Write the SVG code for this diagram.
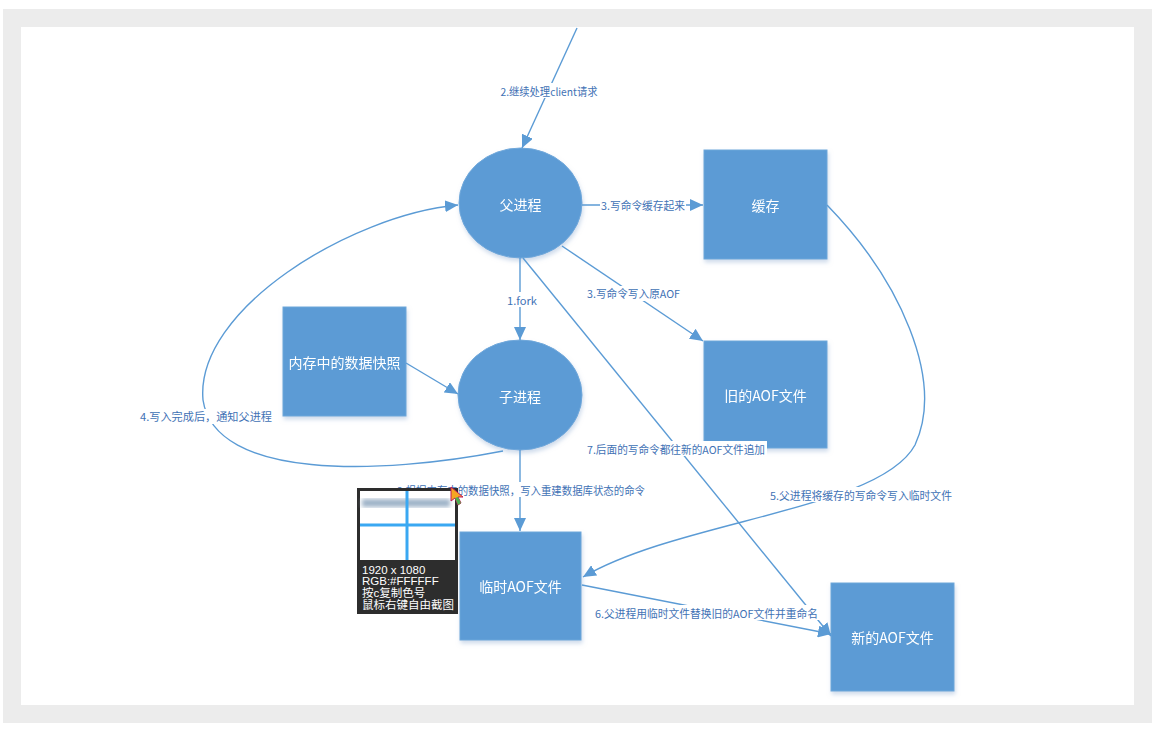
<svg xmlns="http://www.w3.org/2000/svg" width="1173" height="731" viewBox="0 0 1173 731">
<defs>
<style>
.node{fill:#5B9BD5;stroke:#6fa7da;stroke-width:1}
.ntext{font-family:"Noto Sans CJK SC","Liberation Sans",sans-serif;font-size:14px;fill:#ffffff;text-anchor:middle;dominant-baseline:central}
.edge{fill:none;stroke:#5B9BD5;stroke-width:1.4}
.lbg{fill:#ffffff}
.ltext{font-family:"Noto Sans CJK SC","Liberation Sans",sans-serif;font-size:10.8px;fill:#3f72b5;text-anchor:middle;dominant-baseline:central}
.ptext{font-family:"Liberation Sans","Noto Sans CJK SC",sans-serif;font-size:11.5px;fill:#ffffff}
</style>
<marker id="arr" markerUnits="userSpaceOnUse" markerWidth="14" markerHeight="12" refX="13" refY="6" orient="auto">
<path d="M0,0 L13,6 L0,12 Z" fill="#5B9BD5"/>
</marker>
<filter id="sh" x="-10%" y="-10%" width="130%" height="130%">
<feDropShadow dx="1" dy="3" stdDeviation="2" flood-color="#9fb8d8" flood-opacity="0.5"/>
</filter>
<filter id="blur"><feGaussianBlur stdDeviation="2"/></filter>
</defs>

<!-- frame -->
<rect x="0" y="0" width="1173" height="731" fill="#ffffff"/>
<rect x="3" y="9" width="1149" height="714" fill="#ececec"/>
<rect x="21" y="27" width="1113" height="678" fill="#ffffff"/>

<!-- nodes -->
<g id="parent" filter="url(#sh)">
<ellipse class="node" cx="520.5" cy="203" rx="61.5" ry="55"/>
<text class="ntext" x="520.5" y="204">父进程</text>
</g>
<g id="cache" filter="url(#sh)">
<rect class="node" x="704" y="150" width="123" height="109"/>
<text class="ntext" x="765.5" y="205">缓存</text>
</g>
<g id="oldaof" filter="url(#sh)">
<rect class="node" x="704" y="341" width="123" height="107"/>
<text class="ntext" x="765.5" y="395">旧的AOF文件</text>
</g>
<g id="snapshot" filter="url(#sh)">
<rect class="node" x="283" y="307" width="123" height="109"/>
<text class="ntext" x="344.5" y="362">内存中的数据快照</text>
</g>
<g id="child" filter="url(#sh)">
<ellipse class="node" cx="520" cy="395" rx="62" ry="55"/>
<text class="ntext" x="520" y="396">子进程</text>
</g>
<g id="tmpaof" filter="url(#sh)">
<rect class="node" x="460" y="532" width="121" height="108"/>
<text class="ntext" x="520.5" y="586">临时AOF文件</text>
</g>
<g id="newaof" filter="url(#sh)">
<rect class="node" x="831" y="583" width="123" height="108"/>
<text class="ntext" x="892.5" y="637">新的AOF文件</text>
</g>

<!-- connectors -->
<g id="connectors">
<line class="edge" x1="577" y1="28" x2="522" y2="148" marker-end="url(#arr)"/>
<line class="edge" x1="582" y1="205" x2="703" y2="205" marker-end="url(#arr)"/>
<line class="edge" x1="562" y1="246" x2="703" y2="341" marker-end="url(#arr)"/>
<line class="edge" x1="520" y1="258" x2="520" y2="340" marker-end="url(#arr)"/>
<line class="edge" x1="523" y1="258" x2="831" y2="636" marker-end="url(#arr)"/>
<line class="edge" x1="406" y1="363" x2="458" y2="394" marker-end="url(#arr)"/>
<line class="edge" x1="520" y1="450" x2="520" y2="531" marker-end="url(#arr)"/>
<line class="edge" x1="582" y1="585" x2="831" y2="634" marker-end="url(#arr)"/>
<path class="edge" d="M503 451 C380 475 215 480 203 400 C195 310 350 215 458 205" marker-end="url(#arr)"/>
<path class="edge" d="M827 205 C900 280 945 380 915 445 C880 510 680 520 583 577" marker-end="url(#arr)"/>

<rect class="lbg" x="499" y="83" width="100" height="15"/>
<text class="ltext" x="549" y="90.5" textLength="97" lengthAdjust="spacingAndGlyphs">2.继续处理client请求</text>
<rect class="lbg" x="600" y="198" width="86" height="15"/>
<text class="ltext" x="643" y="205" textLength="84" lengthAdjust="spacingAndGlyphs">3.写命令缓存起来</text>
<rect class="lbg" x="586" y="286" width="95" height="15"/>
<text class="ltext" x="633.5" y="293" textLength="93" lengthAdjust="spacingAndGlyphs">3.写命令写入原AOF</text>
<rect class="lbg" x="505" y="292" width="34" height="15"/>
<text class="ltext" x="522" y="299.5" textLength="30" lengthAdjust="spacingAndGlyphs">1.fork</text>
<rect class="lbg" x="586" y="441" width="181" height="15"/>
<text class="ltext" x="676" y="448.5" textLength="178" lengthAdjust="spacingAndGlyphs">7.后面的写命令都往新的AOF文件追加</text>
<rect class="lbg" x="396" y="482" width="251" height="15"/>
<text class="ltext" x="521" y="489.5" textLength="248" lengthAdjust="spacingAndGlyphs">2.根据内存中的数据快照，写入重建数据库状态的命令</text>
<rect class="lbg" x="139" y="409" width="135" height="15"/>
<text class="ltext" x="206" y="416" textLength="132" lengthAdjust="spacingAndGlyphs">4.写入完成后，通知父进程</text>
<rect class="lbg" x="768" y="487" width="186" height="15"/>
<text class="ltext" x="861" y="494.5" textLength="182" lengthAdjust="spacingAndGlyphs">5.父进程将缓存的写命令写入临时文件</text>
<rect class="lbg" x="593" y="605" width="227" height="15"/>
<text class="ltext" x="706.5" y="612.5" textLength="223" lengthAdjust="spacingAndGlyphs">6.父进程用临时文件替换旧的AOF文件并重命名</text>
</g>

<!-- screenshot tool popup overlay -->
<rect x="357" y="488" width="101" height="126" fill="#2d2d2d"/>
<rect x="360" y="491" width="95" height="69" fill="#ffffff"/>
<rect x="362" y="499" width="88" height="8" fill="#9fb3c8" filter="url(#blur)"/>
<line x1="407" y1="491" x2="407" y2="560" stroke="#3aa8f2" stroke-width="3"/>
<line x1="360" y1="525" x2="455" y2="525" stroke="#3aa8f2" stroke-width="3"/>
<text class="ptext" x="362" y="574">1920 x 1080</text>
<text class="ptext" x="362" y="585">RGB:#FFFFFF</text>
<text class="ptext" x="362" y="597">按c复制色号</text>
<text class="ptext" x="362" y="609">鼠标右键自由截图</text>
<polygon points="451,487 451,501 455,498 458,505 461,503 458,497 463,497" fill="#f5a623" stroke="#c2185b" stroke-width="1"/>
<polygon points="455,498 458,505 461,503 458,497" fill="#4caf50"/>
</svg>
